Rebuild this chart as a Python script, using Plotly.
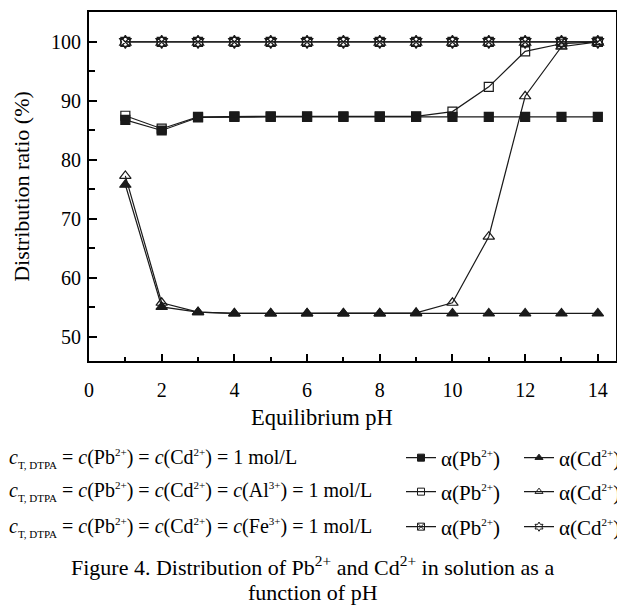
import plotly.graph_objects as go

ph = [1, 2, 3, 4, 5, 6, 7, 8, 9, 10, 11, 12, 13, 14]
pb_base = [86.8, 85.0, 87.2, 87.3, 87.3, 87.3, 87.3, 87.3, 87.3, 87.3, 87.3, 87.3, 87.3, 87.3]
cd_base = [75.8, 55.1, 54.2, 54.0, 54.0, 54.0, 54.0, 54.0, 54.0, 54.0, 54.0, 54.0, 54.0, 54.0]
pb_al = [87.5, 85.3, 87.3, 87.4, 87.4, 87.4, 87.4, 87.4, 87.4, 88.2, 92.4, 98.4, 99.7, 100.0]
cd_al = [77.3, 55.8, 54.2, 54.0, 54.0, 54.0, 54.0, 54.0, 54.1, 55.8, 67.0, 90.8, 99.2, 100.0]
pb_fe = [100.0, 100.0, 100.0, 100.0, 100.0, 100.0, 100.0, 100.0, 100.0, 100.0, 100.0, 100.0, 100.0, 100.0]
cd_fe = [100.0, 100.0, 100.0, 100.0, 100.0, 100.0, 100.0, 100.0, 100.0, 100.0, 100.0, 100.0, 100.0, 100.0]


def sup(s, px):
    return f'<sup><span style="font-size:{px}px">{s}</span></sup>'


def sub(s, px):
    return f'<sub><span style="font-size:{px}px">{s}</span></sub>'


RS = 11  # superscript size in key rows
row_labels = [
    f"<i>c</i>{sub('T, DTPA', 11)} = <i>c</i>(Pb{sup('2+', RS)}) = <i>c</i>(Cd{sup('2+', RS)}) = 1 mol/L",
    f"<i>c</i>{sub('T, DTPA', 11)} = <i>c</i>(Pb{sup('2+', RS)}) = <i>c</i>(Cd{sup('2+', RS)}) = <i>c</i>(Al{sup('3+', RS)}) = 1 mol/L",
    f"<i>c</i>{sub('T, DTPA', 11)} = <i>c</i>(Pb{sup('2+', RS)}) = <i>c</i>(Cd{sup('2+', RS)}) = <i>c</i>(Fe{sup('3+', RS)}) = 1 mol/L",
]
pb_name = f"α(Pb{sup('2+', 11)})"
cd_name = f"α(Cd{sup('2+', 11)})"
caption_lines = [
    "Figure 4. Distribution of Pb<sup>2+</sup> and Cd<sup>2+</sup> in solution as a",
    "function of pH",
]
x_title = "Equilibrium pH"
y_title = "Distribution ratio (%)"

FONT = "Liberation Serif"
LINE = "#1a1a1a"

series = [
    (pb_base, pb_name, "square", "legend", 9),
    (cd_base, cd_name, "triangle-up", "legend", 10),
    (pb_al, pb_name, "square-open", "legend2", 9),
    (cd_al, cd_name, "triangle-up-open", "legend2", 10),
    (pb_fe, pb_name, "square-x-open", "legend3", 9),
    (cd_fe, cd_name, "hexagram-open", "legend3", 10),
]

fig = go.Figure()
for ys, name, sym, leg, sz in series:
    fig.add_trace(go.Scatter(
        x=ph, y=ys, name=name, mode="lines+markers", showlegend=False,
        line=dict(color=LINE, width=1.2),
        marker=dict(symbol=sym, size=sz, color=LINE, line=dict(color=LINE, width=1.2)),
    ))
# legend-only entries (smaller symbols, like the reference key)
for ys, name, sym, leg, sz in series:
    fig.add_trace(go.Scatter(
        x=[None], y=[None], name=name, mode="lines+markers", legend=leg,
        line=dict(color=LINE, width=1.2),
        marker=dict(symbol=sym, size=7, color=LINE, line=dict(color=LINE, width=1)),
    ))

# page is drawn with an 8px body margin, so the figure is 8px smaller
W, H = 617, 598
PL, PR, PT, PB = 89, 616, 12, 361  # plot box in screen pixels
ml, mt = PL - 8, PT - 8
mr, mb = W - (PR - 8), H - (PB - 8)
pw, phh = PR - PL, PB - PT


def X(px):
    return (px - PL) / pw


def Y(py):
    return (PB - py) / phh


row_y = [458, 492, 527]
leg_common = dict(orientation="h", xanchor="left", yanchor="middle",
                  font=dict(family=FONT, size=21, color="black"),
                  entrywidth=73, entrywidthmode="pixels", itemwidth=30,
                  bgcolor="rgba(0,0,0,0)", tracegroupgap=0)

annotations = []
for lbl, ry in zip(row_labels, row_y):
    annotations.append(dict(text=lbl, x=X(7), y=Y(ry), xref="paper", yref="paper",
                            xanchor="left", yanchor="middle", showarrow=False,
                            font=dict(family=FONT, size=20, color="black")))
for cl, cy in zip(caption_lines, [566, 592]):
    annotations.append(dict(text=cl, x=X(312.5), y=Y(cy), xref="paper", yref="paper",
                            xanchor="center", yanchor="middle", showarrow=False,
                            font=dict(family=FONT, size=22, color="black")))
annotations.append(dict(text=x_title, x=X(322), y=Y(418), xref="paper", yref="paper",
                        xanchor="center", yanchor="middle", showarrow=False,
                        font=dict(family=FONT, size=22.5, color="black")))

fig.update_layout(
    width=W, height=H,
    margin=dict(l=ml, r=mr, t=mt, b=mb, autoexpand=False),
    paper_bgcolor="white", plot_bgcolor="white",
    font=dict(family=FONT, size=20, color="black"),
    legend=dict(x=X(401), y=Y(row_y[0]), **leg_common),
    legend2=dict(x=X(401), y=Y(row_y[1]), **leg_common),
    legend3=dict(x=X(401), y=Y(row_y[2]), **leg_common),
    annotations=annotations,
    xaxis=dict(
        range=[0, 14.5], tickvals=[0, 2, 4, 6, 8, 10, 12, 14],
        ticks="inside", ticklen=7, tickwidth=2, tickcolor="black",
        minor=dict(tickvals=[1, 3, 5, 7, 9, 11, 13], ticks="inside", ticklen=4, tickwidth=2, tickcolor="black"),
        showline=True, linewidth=2, linecolor="black", mirror=True,
        showgrid=False, zeroline=False, automargin=False,
        ticklabelstandoff=10,
        tickfont=dict(family=FONT, size=20),
    ),
    yaxis=dict(
        range=[45.93, 105.08], tickvals=[50, 60, 70, 80, 90, 100],
        ticks="inside", ticklen=8, tickwidth=2, tickcolor="black",
        minor=dict(tickvals=[55, 65, 75, 85, 95], ticks="inside", ticklen=6, tickwidth=2, tickcolor="black"),
        showline=True, linewidth=2, linecolor="black", mirror=True,
        showgrid=False, zeroline=False, automargin=False,
        ticklabelstandoff=2,
        title=dict(text=y_title, font=dict(family=FONT, size=22), standoff=15),
        tickfont=dict(family=FONT, size=20),
    ),
)

fig.write_html("out.html")
